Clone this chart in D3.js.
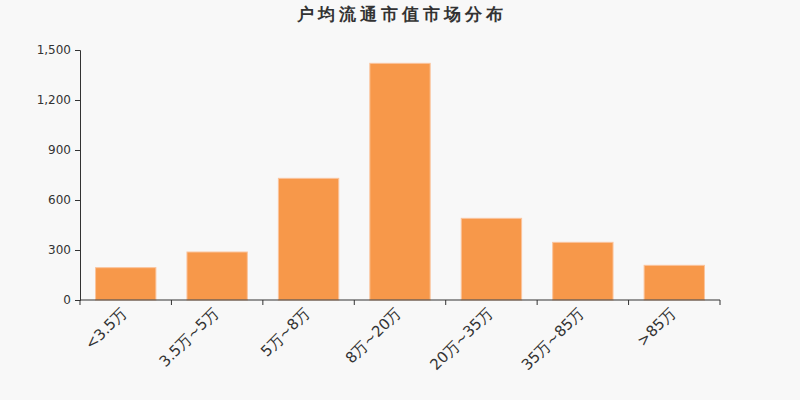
<!DOCTYPE html>
<html>
<head>
<meta charset="utf-8">
<script src="https://cdn.jsdelivr.net/npm/d3@7"></script>
<style>
  body { margin: 0; background: #f8f8f8; }
  svg { display: block; font-family: "DejaVu Sans", sans-serif; }
</style>
</head>
<body>
<div id="chart"></div>
<script>
// chart data
const categories = ["<3.5万", "3.5万~5万", "5万~8万", "8万~20万", "20万~35万", "35万~85万", ">85万"];
const values = [194, 288, 730, 1420, 490, 346, 208];
const yTicks = [0, 300, 600, 900, 1200, 1500];
const title = "户均流通市值市场分布";

const width = 800;
const height = 400;
const margin = { top: 50, left: 80, bottom: 100, right: 80 };

const barColor = "#f7984a";
const barStroke = "#fbc49c";
const axisColor = "#333";

const svg = d3
  .select("#chart")
  .append("svg")
  .attr("width", width)
  .attr("height", height);

svg.append("rect")
  .attr("width", width)
  .attr("height", height)
  .attr("fill", "#f8f8f8");

// title (letter-spacing also pads the last glyph, so nudge right by half)
const titleSpacing = 4;
svg.append("text")
  .attr("x", width / 2 + titleSpacing / 2)
  .attr("y", 20)
  .attr("text-anchor", "middle")
  .attr("font-size", 17)
  .attr("font-weight", "bold")
  .attr("letter-spacing", titleSpacing)
  .attr("fill", "#333")
  .text(title);

const x = d3.scaleBand()
  .domain(categories)
  .range([margin.left, width - margin.right])
  .paddingInner(0.34)
  .paddingOuter(0.17);

const y = d3.scaleLinear()
  .domain([0, 1500])
  .range([height - margin.bottom, margin.top]);

// bars
svg.append("g")
  .selectAll("rect")
  .data(values)
  .enter()
  .append("rect")
  .attr("x", function(d, i) { return x(categories[i]); })
  .attr("y", function(d) { return y(d); })
  .attr("width", x.bandwidth())
  .attr("height", function(d) { return y(0) - y(d); })
  .attr("fill", barColor)
  .attr("stroke", barStroke)
  .attr("stroke-width", 1);

// y axis
const yAxis = svg.append("g")
  .attr("transform", "translate(" + margin.left + ",0)")
  .call(d3.axisLeft(y).tickValues(yTicks).tickSize(5).tickPadding(4).tickFormat(d3.format(",")));
yAxis.select(".domain").attr("stroke", axisColor);
yAxis.selectAll(".tick line").attr("stroke", axisColor);
yAxis.selectAll("text").attr("font-size", 12).attr("fill", axisColor).attr("font-family", "DejaVu Sans");

// x axis, ticks sit on the band boundaries
const xAxis = svg.append("g")
  .attr("transform", "translate(0," + y(0) + ")");
xAxis.append("line")
  .attr("x1", margin.left)
  .attr("x2", width - margin.right)
  .attr("stroke", axisColor);
const boundaries = d3.range(categories.length + 1).map(function(i) {
  return margin.left + i * x.step();
});
xAxis.selectAll(".bt")
  .data(boundaries)
  .enter()
  .append("line")
  .attr("class", "bt")
  .attr("x1", function(d) { return d; })
  .attr("x2", function(d) { return d; })
  .attr("y1", 0)
  .attr("y2", 5)
  .attr("stroke", axisColor);

xAxis.selectAll(".xl")
  .data(categories)
  .enter()
  .append("text")
  .attr("class", "xl")
  .attr("transform", function(d) {
    return "translate(" + (x(d) + x.bandwidth() / 2 + 2) + ",14) rotate(-45)";
  })
  .attr("text-anchor", "end")
  .attr("font-size", 15)
  .attr("fill", axisColor)
  .text(function(d) { return d; });
</script>
</body>
</html>
